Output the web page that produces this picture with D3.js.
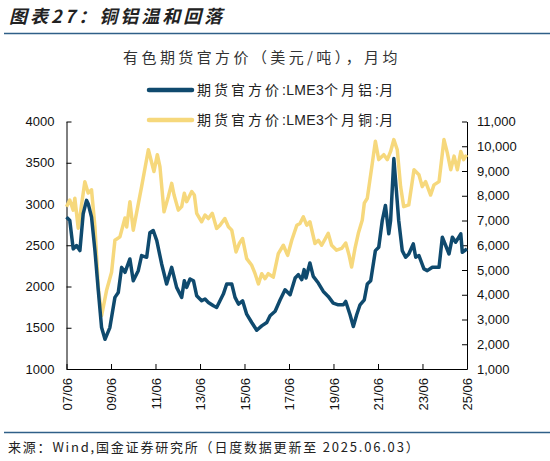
<!DOCTYPE html>
<html lang="zh">
<head>
	<meta charset="UTF-8">
	<title>铜铝温和回落</title>
	<script src="https://cdn.jsdelivr.net/npm/d3@7"></script>
	<style>
		body { margin: 0; background: #fff; }
		text { font-family: "Liberation Sans", Arial, sans-serif; }
	</style>
</head>
<body>
<script>
	// LME 3个月铝 (美元/吨, 左轴)
	var alDates = ["2007-06-01","2007-07-25","2007-09-19","2007-11-13","2008-01-07","2008-03-01","2008-04-25","2008-05-22","2008-07-16","2008-09-10","2008-11-04","2008-12-28","2009-02-22","2009-05-13","2009-08-04","2009-09-28","2009-11-22","2010-01-16","2010-04-07","2010-06-01","2010-08-22","2010-10-16","2011-01-07","2011-03-01","2011-04-25","2011-06-22","2011-09-10","2011-12-01","2012-02-22","2012-05-13","2012-08-04","2012-09-16","2012-10-25","2012-12-19","2013-02-13","2013-04-07","2013-06-28","2013-08-22","2013-10-16","2014-01-07","2014-03-01","2014-04-25","2014-06-19","2014-08-13","2014-11-04","2014-12-28","2015-02-22","2015-05-01","2015-07-07","2015-09-28","2015-12-19","2016-03-10","2016-06-01","2016-07-25","2016-10-16","2017-01-07","2017-03-28","2017-06-19","2017-09-10","2017-11-01","2017-12-28","2018-02-04","2018-03-07","2018-05-10","2018-07-04","2018-09-25","2018-12-16","2019-03-07","2019-05-28","2019-08-19","2019-11-10","2019-12-19","2020-02-28","2020-04-22","2020-06-16","2020-08-10","2020-10-19","2020-12-07","2021-02-01","2021-04-19","2021-06-13","2021-08-10","2021-10-01","2021-11-25","2021-12-25","2022-02-16","2022-03-25","2022-05-07","2022-07-04","2022-08-28","2022-10-19","2023-01-01","2023-02-10","2023-04-04","2023-06-25","2023-08-19","2023-11-10","2024-02-28","2024-04-22","2024-06-16","2024-08-10","2024-10-04","2024-11-28","2025-02-19","2025-03-16","2025-06-01"];
	var alValues = [2841,2800,2456,2496,2435,2882,3044,3004,2841,2435,1949,1502,1360,1502,1868,1928,2232,2172,2334,2070,2192,2375,2354,2651,2679,2557,2273,2030,2232,1989,1868,2070,1989,2091,2070,1888,1827,1848,1807,1766,1746,1827,1908,2030,2030,1868,1787,1827,1665,1564,1470,1523,1564,1645,1700,1839,1961,1900,2103,2144,2083,2205,2103,2285,2123,2042,1940,1880,1799,1778,1778,1819,1657,1515,1657,1778,1839,2030,2070,2435,2476,2800,2983,2638,2800,3551,3205,2800,2435,2354,2394,2516,2354,2375,2213,2192,2233,2233,2598,2497,2394,2598,2537,2638,2415,2456];

	// LME 3个月铜 (美元/吨, 右轴)
	var cuDates = ["2007-06-01","2007-07-25","2007-09-19","2007-10-16","2007-12-10","2008-03-28","2008-05-22","2008-07-16","2008-09-10","2008-11-04","2008-12-28","2009-03-19","2009-06-10","2009-08-04","2009-10-25","2010-01-16","2010-02-13","2010-04-07","2010-06-01","2010-10-16","2011-02-04","2011-05-07","2011-07-01","2011-08-13","2011-10-19","2011-12-28","2012-02-22","2012-04-01","2012-06-10","2012-08-04","2012-09-16","2012-10-25","2013-01-16","2013-02-28","2013-04-07","2013-06-28","2013-08-22","2013-10-16","2013-12-19","2014-03-01","2014-04-25","2014-07-13","2014-09-10","2014-11-04","2015-01-13","2015-03-07","2015-05-01","2015-07-07","2015-09-28","2015-11-22","2016-01-16","2016-03-10","2016-05-04","2016-06-25","2016-09-16","2016-12-07","2017-02-28","2017-05-10","2017-07-16","2017-10-07","2017-11-28","2018-01-22","2018-03-19","2018-05-10","2018-08-01","2018-09-25","2018-11-19","2019-03-07","2019-05-01","2019-07-22","2019-10-13","2019-12-19","2020-02-13","2020-03-25","2020-05-19","2020-07-13","2020-09-16","2020-10-19","2020-12-07","2021-02-28","2021-04-19","2021-06-13","2021-09-04","2021-11-01","2021-12-25","2022-02-16","2022-04-13","2022-06-07","2022-07-28","2022-10-19","2023-01-13","2023-04-04","2023-05-28","2023-07-22","2023-10-13","2023-12-07","2024-02-28","2024-05-19","2024-07-13","2024-09-07","2024-11-01","2024-12-25","2025-02-19","2025-04-07","2025-05-10","2025-06-01"];
	var cuValues = [7557,7830,7420,7900,6690,8570,8110,8240,6740,4300,3150,4170,4910,6200,6340,7100,6740,7760,6610,8370,9860,8980,9660,9180,7350,7960,8500,8030,7420,7560,8100,7760,8170,8030,7290,6950,7220,7080,7290,6680,6810,7080,6750,6610,5730,6070,6270,5460,5190,4850,4440,4850,4650,4850,4710,5660,6000,5590,6200,6810,6880,7150,6810,6950,6070,6200,6000,6480,6000,5800,5870,6090,5590,5120,5870,6480,7020,7700,7900,9320,10200,9460,9660,9460,9790,10270,9860,8370,7560,7630,9050,8850,8370,8570,8030,8440,8570,10270,9730,9050,9600,9050,9790,9460,9600,9550];

	var xTickLabels = ["07/06","09/06","11/06","13/06","15/06","17/06","19/06","21/06","23/06","25/06"];
	var leftTicks = [1000,1500,2000,2500,3000,3500,4000];
	var rightTicks = [1000,2000,3000,4000,5000,6000,7000,8000,9000,10000,11000];
	var seriesNames = ["期货官方价:LME3个月铝:月","期货官方价:LME3个月铜:月"];
	var seriesColors = ["#0f4a6e","#f6d87c"];

	var parse = d3.timeParse("%Y-%m-%d");
	var al = alDates.map(function(d, i) { return {date: parse(d), value: alValues[i]}; });
	var cu = cuDates.map(function(d, i) { return {date: parse(d), value: cuValues[i]}; });
	var tickDates = xTickLabels.map(function(s) { return d3.timeParse("%y/%m")(s); });

	var svg = d3.select("body").append("svg")
		.attr("width", 550)
		.attr("height", 461);

	var plotLeft = 66.5, plotRight = 467, plotTop = 121.5, plotBottom = 369;

	var x = d3.scaleTime()
		.domain([parse("2007-06-01"), parse("2025-06-01")])
		.range([plotLeft, plotRight]);
	var yL = d3.scaleLinear().domain([1000, 4000]).range([plotBottom, plotTop]);
	var yR = d3.scaleLinear().domain([1000, 11000]).range([plotBottom, plotTop]);

	// 标题
	svg.append("text")
		.attr("x", 9)
		.attr("y", 23)
		.attr("font-size", 18)
		.attr("font-weight", "bold")
		.attr("font-style", "italic")
		.attr("fill", "#222")
		.attr("letter-spacing", 3)
		.style("font-family", "'Noto Sans CJK SC', sans-serif")
		.text("图表27：铜铝温和回落");
	svg.append("line")
		.attr("x1", 4).attr("x2", 550)
		.attr("y1", 33.5).attr("y2", 33.5)
		.attr("stroke", "#2f5f88")
		.attr("stroke-width", 1.5);

	svg.append("text")
		.attr("x", 262)
		.attr("y", 63)
		.attr("text-anchor", "middle")
		.attr("font-size", 15)
		.attr("fill", "#333")
		.attr("letter-spacing", 3.4)
		.style("font-family", "'Noto Sans CJK SC', sans-serif")
		.text("有色期货官方价（美元/吨），月均");

	// 图例: 中文字间距宽, 英文字母紧凑
	var legend = svg.selectAll(".legend")
		.data(seriesNames)
		.enter().append("g")
		.attr("class", "legend")
		.attr("transform", function(d, i) { return "translate(149," + (90 + i * 30) + ")"; });
	legend.append("line")
		.attr("x1", 0).attr("x2", 43)
		.attr("stroke", function(d, i) { return seriesColors[i]; })
		.attr("stroke-width", 4.5)
		.attr("stroke-linecap", "round");
	var legendText = legend.append("text")
		.attr("x", 48)
		.attr("dy", "0.35em")
		.attr("font-size", 14)
		.attr("fill", "#222")
		.style("font-family", "'Liberation Sans', 'Noto Sans CJK SC', sans-serif");
	legendText.selectAll("tspan")
		.data(function(d) { return d.match(/[\x00-\x7f]+|[^\x00-\x7f]+/g); })
		.enter().append("tspan")
		.attr("letter-spacing", function(s) { return /[\x00-\x7f]/.test(s) ? 0.3 : 3; })
		.text(function(s) { return s; });

	// 坐标轴
	var gx = svg.append("g")
		.attr("transform", "translate(0," + plotBottom + ")")
		.call(d3.axisBottom(x).tickValues(tickDates).tickFormat(d3.timeFormat("%y/%m")).tickSizeInner(-5).tickSizeOuter(0));
	gx.selectAll("text")
		.attr("transform", "rotate(-90)")
		.attr("x", -9)
		.attr("y", 0)
		.attr("dy", "0.35em")
		.style("text-anchor", "end")
		.attr("font-size", 13)
		.attr("fill", "#111");

	var gl = svg.append("g")
		.attr("transform", "translate(" + plotLeft + ",0)")
		.call(d3.axisLeft(yL).tickValues(leftTicks).tickFormat(d3.format("d")).tickSizeInner(-5).tickSizeOuter(0).tickPadding(12));
	gl.selectAll("text").attr("font-size", 13).attr("fill", "#111");

	var gr = svg.append("g")
		.attr("transform", "translate(" + plotRight + ",0)")
		.call(d3.axisRight(yR).tickValues(rightTicks).tickFormat(d3.format(",")).tickSizeInner(-5).tickSizeOuter(0).tickPadding(10));
	gr.selectAll("text").attr("font-size", 13).attr("fill", "#111");

	svg.selectAll(".domain").attr("stroke", "#000");
	svg.selectAll(".tick line").attr("stroke", "#000");
	svg.selectAll(".tick text").style("font-family", "'Liberation Sans', Arial, sans-serif");

	// 折线
	var lineCu = d3.line()
		.x(function(d) { return x(d.date); })
		.y(function(d) { return yR(d.value); });
	var lineAl = d3.line()
		.x(function(d) { return x(d.date); })
		.y(function(d) { return yL(d.value); });

	svg.append("path")
		.datum(cu)
		.attr("fill", "none")
		.attr("stroke", seriesColors[1])
		.attr("stroke-width", 3.5)
		.attr("stroke-linejoin", "round")
		.attr("d", lineCu);
	svg.append("path")
		.datum(al)
		.attr("fill", "none")
		.attr("stroke", seriesColors[0])
		.attr("stroke-width", 3.5)
		.attr("stroke-linejoin", "round")
		.attr("d", lineAl);

	// 底部
	svg.append("line")
		.attr("x1", 4).attr("x2", 550)
		.attr("y1", 432.5).attr("y2", 432.5)
		.attr("stroke", "#2f5f88")
		.attr("stroke-width", 1.5);
	svg.append("text")
		.attr("x", 8)
		.attr("y", 452)
		.attr("font-size", 13)
		.attr("fill", "#222")
		.attr("letter-spacing", 1.8)
		.style("font-family", "'Noto Sans CJK SC', sans-serif")
		.text("来源：Wind,国金证券研究所（日度数据更新至 2025.06.03）");
</script>
</body>
</html>
